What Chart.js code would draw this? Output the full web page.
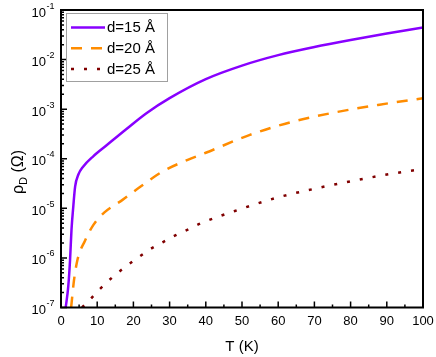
<!DOCTYPE html>
<html>
<head>
<meta charset="utf-8">
<script src="https://cdn.jsdelivr.net/npm/chart.js@4"></script>
<style>
html, body { margin: 0; padding: 0; background: #fff; }
#wrap { width: 436px; height: 357px; }
</style>
</head>
<body>
<div id="wrap"><canvas id="chart"></canvas></div>
<script>
// Dados: T (K) e rho_D (Ohm)
const seriesLabels = ['d=15 Å', 'd=20 Å', 'd=25 Å'];

const t15 = [1.3, 2.0, 2.5, 2.9, 3.4, 3.9, 4.8, 6.1, 8.9, 12.6, 18, 23.6, 30, 40, 50, 60, 70, 80, 90, 100];
const rho15 = [1e-7, 2.63e-7, 9.1e-7, 3.7e-6, 1.1e-5, 2.75e-5, 4.8e-5, 6.9e-5, 1.12e-4, 1.87e-4, 3.94e-4, 8.3e-4,
               1.67e-3, 4.04e-3, 7.57e-3, 1.23e-2, 1.79e-2, 2.48e-2, 3.35e-2, 4.43e-2];

const t20 = [2.8, 3.6, 4.6, 6.6, 9, 12, 17, 22, 28, 35, 40, 52, 64, 76, 88, 96, 100];
const rho20 = [1e-7, 3.6e-7, 9.5e-7, 2.2e-6, 4.7e-6, 8.3e-6, 1.48e-5, 2.75e-5, 5.5e-5, 9.5e-5, 1.32e-4,
               3.0e-4, 5.6e-4, 8.7e-4, 1.23e-3, 1.51e-3, 1.66e-3];

const t25 = [5.8, 7.5, 10.7, 14.2, 17.6, 21.3, 24.7, 28.2, 31.7, 35.3, 38.7, 49.3, 59.9, 70.2, 80.8, 91.4, 100];
const rho25 = [1e-7, 1.32e-7, 2.34e-7, 4.07e-7, 6.46e-7, 1.02e-6, 1.51e-6, 2.09e-6, 2.88e-6, 3.8e-6, 5.0e-6,
               9.5e-6, 1.66e-5, 2.5e-5, 3.6e-5, 5.0e-5, 6.2e-5];

const yExps = [-7, -6, -5, -4, -3, -2, -1];
const xMinorTicks = [5, 15, 25, 35, 45, 55, 65, 75, 85, 95];

const FONT = '"Liberation Sans", Arial, sans-serif';

function pts(ts, vs) {
    return ts.map((t, i) => ({ x: t, y: vs[i] }));
}

// Moldura, ticks internos, rótulos 10^n, título do eixo y e legenda
const framePlugin = {
    id: 'frame',
    afterDraw(chart) {
        const ctx = chart.ctx;
        const a = chart.chartArea;
        const xs = chart.scales.x;
        const ys = chart.scales.y;
        ctx.save();

        // ticks
        ctx.strokeStyle = '#000';
        ctx.lineWidth = 1.5;
        ctx.beginPath();
        yExps.forEach(e => {
            const py = ys.getPixelForValue(Math.pow(10, e));
            ctx.moveTo(a.left, py); ctx.lineTo(a.left + 6, py);
            if (e < -1) {
                for (let k = 2; k <= 9; k++) {
                    const my = ys.getPixelForValue(k * Math.pow(10, e));
                    ctx.moveTo(a.left, my); ctx.lineTo(a.left + 3, my);
                }
            }
        });
        xs.ticks.forEach(t => {
            const px = xs.getPixelForValue(t.value);
            ctx.moveTo(px, a.bottom); ctx.lineTo(px, a.bottom - 6);
        });
        xMinorTicks.forEach(v => {
            const px = xs.getPixelForValue(v);
            ctx.moveTo(px, a.bottom); ctx.lineTo(px, a.bottom - 3);
        });
        ctx.stroke();

        // moldura
        ctx.lineWidth = 2;
        ctx.strokeRect(a.left, a.top, a.right - a.left, a.bottom - a.top);

        // rótulos do eixo y
        ctx.fillStyle = '#000';
        ctx.textAlign = 'left';
        ctx.textBaseline = 'alphabetic';
        yExps.forEach(e => {
            const py = ys.getPixelForValue(Math.pow(10, e));
            ctx.font = '13px ' + FONT;
            ctx.fillText('10', 31.5, py + 6.5);
            const w = ctx.measureText('10').width;
            ctx.font = '9px ' + FONT;
            ctx.fillText(String(e), 31.5 + w + 0.5, py - 1.5);
        });

        // título do eixo y: rho_D (Ohm)
        ctx.save();
        ctx.translate(19, 172);
        ctx.rotate(-Math.PI / 2);
        ctx.textBaseline = 'middle';
        ctx.font = '16px ' + FONT;
        const wRho = ctx.measureText('ρ').width;
        const wRest = ctx.measureText(' (Ω)').width;
        ctx.font = '11px ' + FONT;
        const wD = ctx.measureText('D').width;
        let x0 = -(wRho + wD + wRest) / 2;
        ctx.font = '16px ' + FONT;
        ctx.fillText('ρ', x0, 0);
        ctx.font = '11px ' + FONT;
        ctx.fillText('D', x0 + wRho, 5);
        ctx.font = '16px ' + FONT;
        ctx.fillText(' (Ω)', x0 + wRho + wD, 0);
        ctx.restore();

        // legenda
        const lx = a.left + 5, ly = a.top + 3, lw = 101, lh = 68;
        ctx.fillStyle = '#fff';
        ctx.fillRect(lx, ly, lw, lh);
        ctx.strokeStyle = '#a0a0a0';
        ctx.lineWidth = 1;
        ctx.strokeRect(lx + 0.5, ly + 0.5, lw, lh);
        chart.data.datasets.forEach((ds, i) => {
            const rowY = ly + 14.5 + i * 20.7;
            ctx.strokeStyle = ds.borderColor;
            ctx.lineWidth = ds.borderWidth;
            ctx.setLineDash(ds.borderDash || []);
            ctx.beginPath();
            ctx.moveTo(lx + 5, rowY);
            ctx.lineTo(lx + 39, rowY);
            ctx.stroke();
            ctx.setLineDash([]);
            ctx.fillStyle = '#000';
            ctx.font = '15px ' + FONT;
            ctx.textBaseline = 'middle';
            ctx.fillText(ds.label, lx + 41, rowY + 0.5);
        });

        ctx.restore();
    }
};

new Chart(document.getElementById('chart'), {
    type: 'line',
    data: {
        datasets: [{
            label: seriesLabels[0],
            data: pts(t15, rho15),
            borderColor: '#8800ff',
            borderWidth: 2.5,
            pointRadius: 0,
            cubicInterpolationMode: 'monotone'
        }, {
            label: seriesLabels[1],
            data: pts(t20, rho20),
            borderColor: '#ff8c00',
            borderWidth: 2.5,
            borderDash: [11, 9],
            pointRadius: 0,
            cubicInterpolationMode: 'monotone'
        }, {
            label: seriesLabels[2],
            data: pts(t25, rho25),
            borderColor: '#800000',
            borderWidth: 2.5,
            borderDash: [3, 10],
            pointRadius: 0,
            cubicInterpolationMode: 'monotone'
        }]
    },
    options: {
        responsive: true,
        maintainAspectRatio: false,
        animation: false,
        layout: { padding: { top: 10, right: 13, left: 0, bottom: 0 } },
        plugins: {
            legend: { display: false },
            tooltip: { enabled: false }
        },
        scales: {
            x: {
                type: 'linear',
                min: 0,
                max: 100,
                grid: { display: false, drawTicks: false },
                border: { display: false },
                ticks: {
                    stepSize: 10,
                    color: '#000',
                    padding: 6,
                    maxRotation: 0,
                    font: { family: FONT, size: 13 }
                },
                title: {
                    display: true,
                    text: 'T (K)',
                    color: '#000',
                    font: { family: FONT, size: 15 },
                    padding: { top: 0, bottom: 1 }
                },
                afterFit(scale) {
                    scale.height = 49.5;
                    scale.paddingLeft = 0;
                    scale.paddingRight = 0;
                }
            },
            y: {
                type: 'logarithmic',
                min: 1e-7,
                max: 1e-1,
                grid: { display: false, drawTicks: false },
                border: { display: false },
                ticks: { display: false },
                afterFit(scale) {
                    scale.width = 61;
                    scale.paddingTop = 0;
                    scale.paddingBottom = 0;
                }
            }
        }
    },
    plugins: [framePlugin]
});
</script>
</body>
</html>
